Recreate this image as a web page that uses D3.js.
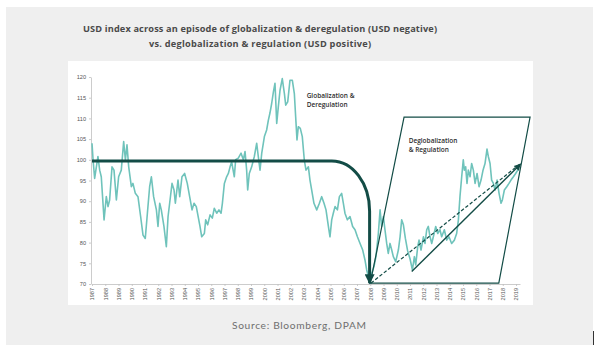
<!DOCTYPE html>
<html>
<head>
<meta charset="utf-8">
<script src="https://cdn.jsdelivr.net/npm/d3@7"></script>
<style>
  body { margin: 0; background: #fff; }
  svg { display: block; }
</style>
</head>
<body>
<svg width="600" height="349"></svg>
<script>
const svg = d3.select("svg"),
    width = +svg.attr("width"),
    height = +svg.attr("height");

// USD index, decimal year / level
const usdYears = [
  1987.0, 1987.08, 1987.2, 1987.45, 1987.58, 1987.7, 1987.91, 1988.08, 1988.21, 1988.33,
  1988.51, 1988.66, 1988.84, 1989.01, 1989.21, 1989.39, 1989.52, 1989.64, 1989.77, 1989.97,
  1990.09, 1990.27, 1990.47, 1990.67, 1990.85, 1991.02, 1991.18, 1991.35, 1991.48, 1991.65,
  1991.86, 1991.98, 1992.11, 1992.23, 1992.43, 1992.61, 1992.74, 1992.86, 1993.04, 1993.19,
  1993.29, 1993.49, 1993.62, 1993.79, 1993.99, 1994.19, 1994.37, 1994.55, 1994.7, 1994.87,
  1995.15, 1995.28, 1995.48, 1995.58, 1995.73, 1995.91, 1996.08, 1996.23, 1996.41, 1996.58,
  1996.74, 1996.84, 1996.99, 1997.16, 1997.29, 1997.42, 1997.54, 1997.74, 1997.84, 1998.04,
  1998.25, 1998.42, 1998.55, 1998.67, 1998.75, 1998.87, 1999.05, 1999.25, 1999.43, 1999.55,
  1999.68, 1999.81, 2000.01, 2000.18, 2000.31, 2000.43, 2000.56, 2000.69, 2000.81, 2000.94,
  2001.06, 2001.19, 2001.36, 2001.52, 2001.62, 2001.77, 2001.94, 2002.12, 2002.27, 2002.37,
  2002.47, 2002.57, 2002.72, 2002.87, 2003.02, 2003.15, 2003.33, 2003.45, 2003.58, 2003.75,
  2003.96, 2004.16, 2004.33, 2004.51, 2004.66, 2004.84, 2004.96, 2005.09, 2005.21, 2005.34,
  2005.52, 2005.67, 2005.84, 2005.97, 2006.09, 2006.27, 2006.47, 2006.67, 2006.85, 2007.03,
  2007.23, 2007.43, 2007.6, 2007.73, 2007.86, 2007.98, 2008.11, 2008.28, 2008.43, 2008.61,
  2008.74, 2008.86, 2008.99, 2009.11, 2009.24, 2009.36, 2009.49, 2009.62, 2009.74, 2009.92,
  2010.12, 2010.25, 2010.37, 2010.5, 2010.65, 2010.82, 2011.0, 2011.18, 2011.33, 2011.43,
  2011.58, 2011.68, 2011.83, 2012.01, 2012.13, 2012.26, 2012.38, 2012.51, 2012.64, 2012.76,
  2012.94, 2013.09, 2013.26, 2013.39, 2013.59, 2013.77, 2013.94, 2014.14, 2014.35, 2014.52,
  2014.65, 2014.77, 2014.9, 2015.02, 2015.1, 2015.2, 2015.3, 2015.4, 2015.53, 2015.65,
  2015.78, 2015.91, 2016.06, 2016.21, 2016.36, 2016.51, 2016.66, 2016.81, 2016.91, 2017.04,
  2017.16, 2017.29, 2017.42, 2017.57, 2017.72, 2017.87, 2017.97, 2018.12, 2018.3, 2018.47,
  2018.62, 2018.8, 2018.97, 2019.13, 2019.23
];
const usdLevels = [
  104.0, 100.0, 95.5, 100.8, 97.5, 95.9, 85.5, 91.1, 88.7, 90.3,
  98.3, 97.5, 90.3, 95.9, 97.5, 104.4, 100.0, 103.6, 98.3, 93.5,
  94.3, 91.9, 91.1, 86.3, 81.8, 81.0, 87.1, 93.5, 95.9, 91.1,
  87.9, 83.9, 89.5, 87.9, 83.9, 79.0, 86.3, 89.5, 94.3, 92.7,
  89.5, 95.1, 91.1, 95.9, 96.7, 94.3, 91.1, 87.9, 89.5, 88.7,
  83.9, 81.4, 82.2, 85.5, 84.3, 86.7, 85.9, 88.3, 87.1, 87.9,
  87.1, 89.5, 94.3, 95.9, 96.7, 98.3, 99.5, 95.9, 100.0, 100.4,
  101.6, 100.0, 102.0, 97.5, 92.7, 96.7, 98.3, 100.8, 104.0, 100.8,
  97.5, 101.6, 105.6, 107.2, 109.6, 111.3, 113.6, 116.4, 118.5, 108.8,
  112.8, 116.8, 119.6, 116.0, 113.2, 114.0, 119.2, 119.2, 116.0, 110.4,
  104.8, 108.0, 107.6, 105.6, 100.0, 97.5, 98.3, 95.1, 92.7, 89.5,
  87.9, 89.5, 91.1, 89.5, 87.9, 83.9, 81.4, 85.5, 87.1, 88.7,
  87.9, 91.1, 91.9, 89.5, 87.1, 85.5, 86.3, 83.9, 83.1, 81.4,
  79.8, 78.2, 75.8, 73.4, 71.8, 70.2, 72.6, 74.2, 76.6, 82.2,
  87.9, 83.9, 86.3, 83.1, 79.8, 77.4, 79.8, 78.2, 76.6, 75.4,
  78.2, 81.4, 85.5, 84.3, 81.0, 78.0, 76.1, 73.4, 76.6, 74.6,
  79.0, 80.6, 78.2, 81.4, 79.8, 83.1, 83.9, 81.4, 79.8, 81.4,
  83.9, 82.2, 83.1, 81.4, 83.1, 80.6, 81.4, 79.8, 80.6, 82.2,
  85.5, 91.1, 95.9, 100.0, 97.5, 98.3, 94.3, 97.5, 95.9, 99.1,
  97.5, 94.3, 96.7, 93.5, 95.1, 97.5, 99.1, 102.6, 100.8, 99.1,
  95.1, 94.3, 92.7, 95.1, 91.9, 89.5, 90.3, 92.7, 93.5, 94.3,
  95.1, 95.9, 96.7, 97.5, 97.9
];

const yearTicks = d3.range(1987, 2020);
const levelTicks = d3.range(70, 121, 5);

const titleLines = [
  "USD index across an episode of globalization & deregulation (USD negative)",
  "vs. deglobalization & regulation (USD positive)"
];
const titleWidths = [354, 222];
const sourceText = "Source: Bloomberg, DPAM";

// annotation geometry in data units
const deregLevel = 99.7;
const deregBend = [2005.1, 2007.95, 87.6];   // bend start year, vertical year, level where vertical starts
const deregTip = 70.2;
const channel = [[2008.0, 70.2], [2010.55, 110.3], [2020.06, 110.3], [2017.7, 70.2]];
const dashedTrend = [[2008.05, 70.2], [2019.3, 99.0]];
const solidTrend = [[2011.13, 73.0], [2019.35, 99.0]];
const notes = [
  { lines: ["Globalization &", "Deregulation"], year: 2003.2, level: 115.0 },
  { lines: ["Deglobalization", "& Regulation"], year: 2010.9, level: 104.0 }
];

const teal = "#6fc3bb",
    dark = "#134c46";

// backgrounds
svg.append("rect").attr("x", 6).attr("y", 7).attr("width", 587).attr("height", 338)
  .attr("fill", "#efefef");
svg.append("rect").attr("x", 68).attr("y", 61).attr("width", 465).attr("height", 244)
  .attr("fill", "#fff");
svg.append("line").attr("x1", 593.5).attr("x2", 593.5).attr("y1", 331).attr("y2", 345)
  .attr("stroke", "#333").attr("stroke-width", 1);

svg.selectAll(".title")
  .data(titleLines)
  .enter().append("text")
  .attr("class", "title")
  .attr("x", 260)
  .attr("y", (d, i) => 31.5 + i * 15)
  .attr("text-anchor", "middle")
  .attr("textLength", (d, i) => titleWidths[i])
  .attr("lengthAdjust", "spacing")
  .style("font-family", "'Open Sans', sans-serif")
  .style("font-weight", "bold")
  .style("font-size", "9.2px")
  .style("fill", "#4a4a4a")
  .text(d => d);

svg.append("text")
  .attr("x", 299).attr("y", 328.5)
  .attr("text-anchor", "middle")
  .attr("textLength", 134)
  .attr("lengthAdjust", "spacing")
  .style("font-family", "Lato, sans-serif")
  .style("font-size", "10.2px")
  .style("fill", "#6e6e6e")
  .text(sourceText);

const x = d3.scaleLinear().domain([1987, 2019.3]).range([92, 520]);
const y = d3.scaleLinear().domain([70, 120]).range([284, 77]);

// axes
const xAxis = svg.append("g")
  .attr("transform", `translate(0,${y(70)})`)
  .call(d3.axisBottom(x).tickValues(yearTicks).tickFormat(d3.format("d")).tickSize(2).tickSizeOuter(0));
xAxis.selectAll("text")
  .attr("transform", "rotate(-90)")
  .attr("x", -4).attr("y", 0).attr("dy", "0.35em")
  .style("text-anchor", "end");

const yAxis = svg.append("g")
  .attr("transform", `translate(${x(1987) - 1},0)`)
  .call(d3.axisLeft(y).tickValues(levelTicks).tickSize(2).tickSizeOuter(0));

svg.selectAll(".domain, .tick line").attr("stroke", "#bfbfbf").attr("stroke-width", 0.8);
svg.selectAll(".tick text")
  .style("font-family", "'Liberation Sans', sans-serif")
  .style("font-size", "5.6px")
  .style("fill", "#555");

// the USD line
const series = usdYears.map((t, i) => [t, usdLevels[i]]);
svg.append("path")
  .datum(series)
  .attr("fill", "none")
  .attr("stroke", teal)
  .attr("stroke-width", 1.6)
  .attr("stroke-linejoin", "round")
  .attr("d", d3.line().x(d => x(d[0])).y(d => y(d[1])));

// arrow heads
const defs = svg.append("defs");
defs.append("marker")
  .attr("id", "bigHead")
  .attr("markerUnits", "userSpaceOnUse")
  .attr("viewBox", "0 0 10 10")
  .attr("markerWidth", 12).attr("markerHeight", 10)
  .attr("refX", 9).attr("refY", 5)
  .attr("orient", "auto")
  .append("path").attr("d", "M0,0L10,5L0,10z").attr("fill", dark);
defs.append("marker")
  .attr("id", "smallHead")
  .attr("markerUnits", "userSpaceOnUse")
  .attr("viewBox", "0 0 10 10")
  .attr("markerWidth", 9).attr("markerHeight", 7)
  .attr("refX", 9).attr("refY", 5)
  .attr("orient", "auto")
  .append("path").attr("d", "M0,0L10,5L0,10z").attr("fill", dark);

// globalization arc: flat, then bending down to 2008
const rx = x(deregBend[1]) - x(deregBend[0]),
    ry = y(deregBend[2]) - y(deregLevel);
svg.append("path")
  .attr("fill", "none")
  .attr("stroke", dark)
  .attr("stroke-width", 3)
  .attr("marker-end", "url(#bigHead)")
  .attr("d", `M${x(1987)},${y(deregLevel)}H${x(deregBend[0])}` +
    `A${rx},${ry} 0 0 1 ${x(deregBend[1])},${y(deregBend[2])}` +
    `V${y(deregTip)}`);

// deglobalization channel
svg.append("path")
  .attr("fill", "none")
  .attr("stroke", dark)
  .attr("stroke-width", 1.2)
  .attr("d", d3.line().x(d => x(d[0])).y(d => y(d[1]))(channel) + "Z");

svg.append("path")
  .attr("fill", "none")
  .attr("stroke", dark)
  .attr("stroke-width", 1.2)
  .attr("stroke-dasharray", "3.5,2")
  .attr("d", d3.line().x(d => x(d[0])).y(d => y(d[1]))(dashedTrend));

svg.append("path")
  .attr("fill", "none")
  .attr("stroke", dark)
  .attr("stroke-width", 1.4)
  .attr("marker-end", "url(#smallHead)")
  .attr("d", d3.line().x(d => x(d[0])).y(d => y(d[1]))(solidTrend));

// notes
notes.forEach(n => {
  const t = svg.append("text")
    .attr("x", x(n.year)).attr("y", y(n.level))
    .style("font-family", "'Open Sans', sans-serif")
    .style("font-weight", 600)
    .style("font-size", "6.5px")
    .style("fill", "#2e2e2e");
  n.lines.forEach((l, i) => {
    t.append("tspan").attr("x", x(n.year)).attr("dy", i ? 9 : 0).text(l);
  });
});
</script>
</body>
</html>
